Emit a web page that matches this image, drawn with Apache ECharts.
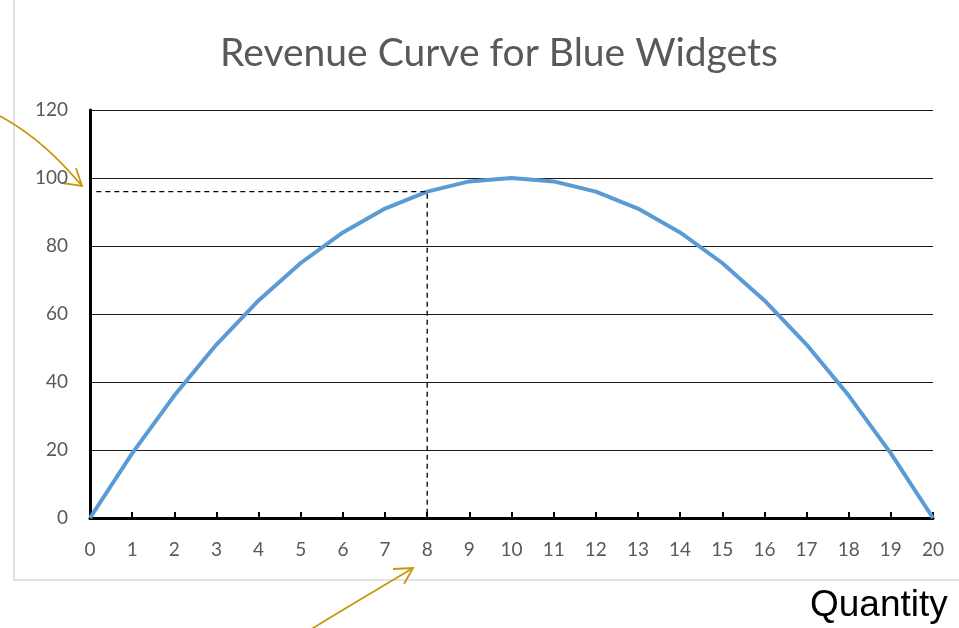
<!DOCTYPE html>
<html><head><meta charset="utf-8">
<script src="https://cdn.jsdelivr.net/npm/echarts@6/dist/echarts.min.js"></script>
<style>html,body{margin:0;padding:0;background:#fff}#c{width:959px;height:628px}</style>
</head><body><div id="c"></div>
<script>
const quantities = [0,1,2,3,4,5,6,7,8,9,10,11,12,13,14,15,16,17,18,19,20];
const revenue = [0,19,36,51,64,75,84,91,96,99,100,99,96,91,84,75,64,51,36,19,0];
const highlightQ = 8;
const highlightR = 96;
const titleText = 'Revenue Curve for Blue Widgets';
const xLabelText = 'Quantity';

const chart = echarts.init(document.getElementById('c'), null, {renderer:'canvas'});
const font = 'Lato, "Open Sans", sans-serif';
chart.setOption({
  animation:false,
  title:{text:titleText,left:494,top:29,textAlign:'center',textStyle:{fontFamily:font,fontSize:39,fontWeight:'normal',color:'#595959'}},
  grid:{left:90,right:26,top:110,bottom:110,containLabel:false},
  xAxis:{type:'value',min:0,max:20,interval:1,
    axisLine:{show:true,lineStyle:{color:'#000',width:3}},
    axisTick:{show:true,inside:true,length:6,lineStyle:{color:'#000',width:2}},
    axisLabel:{margin:22,fontFamily:font,fontSize:19,color:'#595959'},
    splitLine:{show:false}},
  yAxis:{type:'value',min:0,max:120,interval:20,
    axisLine:{show:true,lineStyle:{color:'#000',width:3}},
    axisTick:{show:false},
    axisLabel:{margin:22,fontFamily:font,fontSize:19,color:'#595959'},
    splitLine:{show:true,lineStyle:{color:'#1a1a1a',width:1.2}}},
  series:[
    {type:'line',data:quantities.map((q,i)=>[q,revenue[i]]),showSymbol:false,smooth:false,
     lineStyle:{color:'#5B9BD5',width:4},z:3},
    {type:'line',data:[[0.15,highlightR],[highlightQ,highlightR],[highlightQ,0]],showSymbol:false,
     lineStyle:{color:'#000',width:1.3,type:[5,4]},z:4}
  ],
  graphic:[
    {type:'rect',shape:{x:14,y:-5,width:960,height:585},style:{fill:'none',stroke:'#d9d9d9',lineWidth:1.5},z:-1},
    {type:'text',left:810,top:587,style:{text:xLabelText,font:'37px "Liberation Sans", Arial, sans-serif',fill:'#000'}},
    {type:'bezierCurve',shape:{x1:0,y1:116,cpx1:35,cpy1:135,cpx2:60,cpy2:160,x2:82,y2:186},style:{stroke:'#C9970C',lineWidth:1.8,fill:'none'}},
    {type:'polyline',shape:{points:[[62,183],[82,186],[76,168]]},style:{stroke:'#C9970C',lineWidth:1.8,fill:'none'}},
    {type:'bezierCurve',shape:{x1:310,y1:630,cpx1:345,cpy1:608,cpx2:380,cpy2:588,x2:413,y2:568},style:{stroke:'#C9970C',lineWidth:1.8,fill:'none'}},
    {type:'polyline',shape:{points:[[393,569],[413,568],[404,584]]},style:{stroke:'#C9970C',lineWidth:1.8,fill:'none'}}
  ]
});
</script></body></html>
